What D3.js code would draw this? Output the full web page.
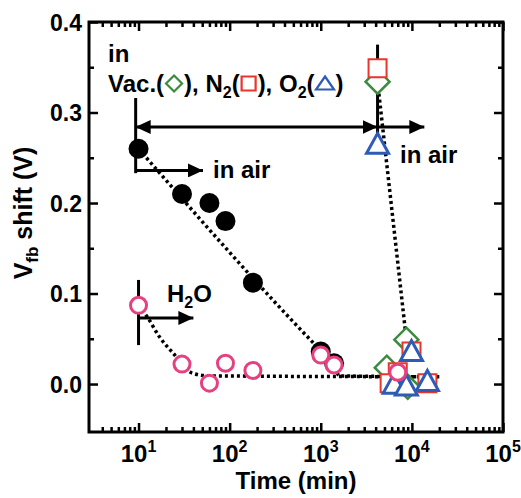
<!DOCTYPE html>
<html>
<head>
<meta charset="UTF-8">
<title>Vfb shift vs time</title>
<script src="https://cdn.jsdelivr.net/npm/d3@7"></script>
<style>
  body { margin: 0; background: #fff; }
  svg text { font-family: "Liberation Sans", Arial, Helvetica, sans-serif; font-weight: bold; fill: #000; }
</style>
</head>
<body>
<svg id="chart" width="521" height="498"></svg>
<script>
// ---- data ----
// dark-stored sample, then in air (filled black circles)
var timeAir = [10, 30, 60, 90, 180, 1000, 1400, 7300];
var vfbAir  = [0.26, 0.21, 0.20, 0.18, 0.112, 0.036, 0.023, -0.002];
// H2O exposure (open pink circles)
var timeH2O = [10, 30, 60, 90, 180, 1000, 1400, 7000];
var vfbH2O  = [0.087, 0.022, 0.001, 0.023, 0.015, 0.032, 0.021, 0.013];
// in vacuum (green diamonds), N2 (red squares), O2 (blue triangles)
var timeVac = [4200, 8700, 5300, 9000];
var vfbVac  = [0.334, 0.049, 0.018, -0.003];
var timeN2  = [4200, 9900, 7000, 5700, 14800];
var vfbN2   = [0.349, 0.036, 0.013, 0.001, 0.001];
var timeO2  = [4200, 9900, 6400, 8700, 14800];
var vfbO2   = [0.266, 0.037, 0.001, -0.001, 0.004];

// dotted guide lines
var guideAirTime = [10, 1000, 1400, 1600, 20000];
var guideAirVfb  = [0.26, 0.037, 0.022, 0.009, 0.008];
var guideH2OTime = [10, 12.5, 17, 24, 39, 60, 20000];
var guideH2OVfb  = [0.087, 0.074, 0.052, 0.034, 0.012, 0.009, 0.008];
var guideGasTime = [4200, 8700];
var guideGasVfb  = [0.334, 0.049];

// axes
var xMajor = [10, 100, 1000, 10000, 100000];
var xExp   = ["1", "2", "3", "4", "5"];
var yMajor = [0.0, 0.1, 0.2, 0.3, 0.4];
var yMinor = [0.05, 0.15, 0.25, 0.35];

var cGreen = "#3b8a3e", cRed = "#e8362d", cBlue = "#2d5bb5", cPink = "#e5407f";

var svg = d3.select("#chart");
var pLeft = 89, pRight = 503, pTop = 22, pBottom = 432;

var x = d3.scaleLog().domain([2.86, 100000]).range([pLeft, pRight]);
var y = d3.scaleLinear().domain([-0.053, 0.4]).range([pBottom, pTop]);

// minor log ticks
var xMinor = [];
[1, 10, 100, 1000, 10000].forEach(function (dec) {
  for (var k = 2; k <= 9; k++) {
    var v = k * dec;
    if (v > 3 && v < 100000) xMinor.push(v);
  }
});

// ---- axes (ticks pointing inward) ----
function axisG(axis, tx, ty) {
  var g = svg.append("g").attr("transform", "translate(" + tx + "," + ty + ")").call(axis);
  g.select(".domain").remove();
  g.selectAll("line").attr("stroke", "#000").attr("stroke-width", 2.5);
  return g;
}
axisG(d3.axisBottom(x).tickValues(xMajor).tickSize(-9).tickFormat(""), 0, pBottom);
axisG(d3.axisBottom(x).tickValues(xMinor).tickSize(-5).tickFormat(""), 0, pBottom);
axisG(d3.axisTop(x).tickValues(xMajor).tickSize(-9).tickFormat(""), 0, pTop);
axisG(d3.axisTop(x).tickValues(xMinor).tickSize(-5).tickFormat(""), 0, pTop);
var yl = axisG(d3.axisLeft(y).tickValues(yMajor).tickSize(-9).tickPadding(7).tickFormat(d3.format(".1f")), pLeft, 0);
yl.selectAll("text").style("font-size", "23px").attr("dy", "0.36em");
axisG(d3.axisLeft(y).tickValues(yMinor).tickSize(-5).tickFormat(""), pLeft, 0);
axisG(d3.axisRight(y).tickValues(yMajor).tickSize(-9).tickFormat(""), pRight, 0);
axisG(d3.axisRight(y).tickValues(yMinor).tickSize(-5).tickFormat(""), pRight, 0);

svg.append("rect").attr("x", pLeft).attr("y", pTop)
  .attr("width", pRight - pLeft).attr("height", pBottom - pTop)
  .attr("fill", "none").attr("stroke", "#000").attr("stroke-width", 3);

// x tick labels with superscripts
xMajor.forEach(function (v, i) {
  var t = svg.append("text").attr("x", x(v)).attr("y", 462)
    .attr("text-anchor", "middle").style("font-size", "24px");
  t.append("tspan").text("10");
  t.append("tspan").attr("dy", -10).style("font-size", "16px").text(xExp[i]);
});

svg.append("text").attr("x", (pLeft + pRight) / 2).attr("y", 489)
  .attr("text-anchor", "middle").style("font-size", "24px").text("Time (min)");

var yt = svg.append("text").attr("transform", "translate(32,213) rotate(-90)")
  .attr("text-anchor", "middle").style("font-size", "25px");
yt.append("tspan").text("V");
yt.append("tspan").attr("dy", 6).style("font-size", "17px").text("fb");
yt.append("tspan").attr("dy", -6).text(" shift (V)");

// ---- dotted guides ----
function guide(ts, vs) {
  var pts = ts.map(function (t, i) { return [x(t), y(vs[i])]; });
  svg.append("path").attr("d", d3.line().curve(d3.curveMonotoneX)(pts))
    .attr("fill", "none").attr("stroke", "#000").attr("stroke-width", 3.5)
    .attr("stroke-dasharray", "3,3");
}
guide(guideAirTime, guideAirVfb);
guide(guideH2OTime, guideH2OVfb);
svg.append("path")
  .attr("d", d3.line()(guideGasTime.map(function (t, i) { return [x(t), y(guideGasVfb[i])]; })))
  .attr("fill", "none").attr("stroke", "#000").attr("stroke-width", 3.5)
  .attr("stroke-dasharray", "3,3");

// ---- annotation lines & arrows ----
var defs = svg.append("defs");
defs.append("marker").attr("id", "ah")
  .attr("viewBox", "0 0 15 14").attr("refX", 15).attr("refY", 7)
  .attr("markerWidth", 15).attr("markerHeight", 14)
  .attr("markerUnits", "userSpaceOnUse").attr("orient", "auto-start-reverse")
  .append("path").attr("d", "M0,0 L15,7 L0,14 Z").attr("fill", "#000");

function seg(t1, v1, t2, v2, startHead, endHead) {
  var l = svg.append("line")
    .attr("x1", x(t1)).attr("y1", y(v1)).attr("x2", x(t2)).attr("y2", y(v2))
    .attr("stroke", "#000").attr("stroke-width", 3);
  if (startHead) l.attr("marker-start", "url(#ah)");
  if (endHead) l.attr("marker-end", "url(#ah)");
}
seg(9.3, 0.316, 9.3, 0.233, false, false);
seg(9.3, 0.284, 4200, 0.284, true, true);
seg(9.3, 0.236, 51, 0.236, false, true);
seg(4200, 0.375, 4200, 0.277, false, false);
seg(4200, 0.284, 13700, 0.284, false, true);
seg(10, 0.115, 10, 0.043, false, false);
seg(10, 0.073, 40, 0.073, false, true);

// ---- markers ----
function pts(ts, vs) { return ts.map(function (t, i) { return [t, vs[i]]; }); }

svg.append("g").selectAll("circle").data(pts(timeAir, vfbAir)).join("circle")
  .attr("cx", function (d) { return x(d[0]); }).attr("cy", function (d) { return y(d[1]); })
  .attr("r", 10).attr("fill", "#000");

function shapes(data, d, color, sw) {
  svg.append("g").selectAll("path").data(data).join("path")
    .attr("transform", function (p) { return "translate(" + x(p[0]) + "," + y(p[1]) + ")"; })
    .attr("d", d).attr("fill", "#fff").attr("stroke", color).attr("stroke-width", sw);
}
var diamondD = "M0,-12 L12,0 L0,12 L-12,0 Z";
var squareD = "M-9,-9 H9 V9 H-9 Z";
var triD = "M0,-10 L11,10 L-11,10 Z";
shapes(pts(timeVac, vfbVac), diamondD, cGreen, 2.5);
shapes(pts(timeN2, vfbN2), squareD, cRed, 2);
shapes(pts(timeO2, vfbO2), triD, cBlue, 3);

svg.append("g").selectAll("circle").data(pts(timeH2O, vfbH2O)).join("circle")
  .attr("cx", function (d) { return x(d[0]); }).attr("cy", function (d) { return y(d[1]); })
  .attr("r", 8).attr("fill", "#fff").attr("stroke", cPink).attr("stroke-width", 3);

// ---- text annotations ----
svg.append("text").attr("x", 108).attr("y", 62).style("font-size", "24px").text("in");
svg.append("text").attr("x", 213).attr("y", 178).style("font-size", "24px").text("in air");
svg.append("text").attr("x", 400).attr("y", 163).style("font-size", "24px").text("in air");
var h2o = svg.append("text").attr("x", 167).attr("y", 302).style("font-size", "24px");
h2o.append("tspan").text("H");
h2o.append("tspan").attr("dy", 6).style("font-size", "16px").text("2");
h2o.append("tspan").attr("dy", -6).text("O");

// legend line with drawn symbols
var parts = [
  { t: "Vac.(" }, { s: "M0,-8 L8,0 L0,8 L-8,0 Z", c: cGreen, w: 20 },
  { t: "), N" }, { t: "2", sub: true }, { t: "(" },
  { s: "M-7,-7 H7 V7 H-7 Z", c: cRed, w: 18 },
  { t: "), O" }, { t: "2", sub: true }, { t: "(" },
  { s: "M0,-7 L9,6 L-9,6 Z", c: cBlue, w: 21 },
  { t: ")" }
];
var cx = 108, base = 92;
parts.forEach(function (p) {
  if (p.t) {
    var t = svg.append("text").attr("x", cx).attr("y", base + (p.sub ? 6 : 0))
      .style("font-size", p.sub ? "16px" : "24px").text(p.t);
    cx += t.node().getComputedTextLength();
  } else {
    svg.append("path").attr("transform", "translate(" + (cx + p.w / 2) + "," + (base - 8.5) + ")")
      .attr("d", p.s).attr("fill", "none").attr("stroke", p.c).attr("stroke-width", 2.2);
    cx += p.w;
  }
});
</script>
</body>
</html>
